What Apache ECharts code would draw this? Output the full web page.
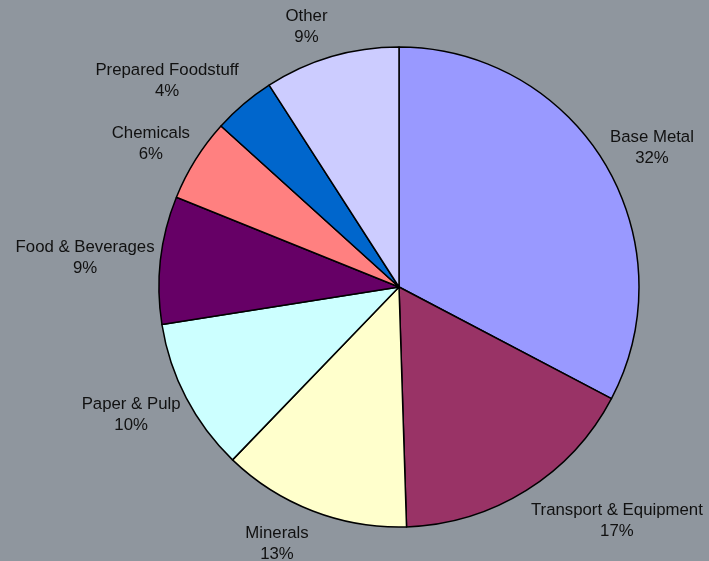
<!DOCTYPE html>
<html><head><meta charset="utf-8">
<script src="https://cdn.jsdelivr.net/npm/echarts@6/dist/echarts.min.js"></script>
<style>html,body{margin:0;padding:0;background:#8f969e}#c{width:709px;height:561px}</style>
</head><body><div id="c"></div>
<script>
const categories = ['Base Metal','Transport & Equipment','Minerals','Paper & Pulp','Food & Beverages','Chemicals','Prepared Foodstuff','Other'];
const values = [32.7, 16.8, 12.7, 10.3, 8.6, 5.6, 4.2, 9.1];
const percentLabels = ['32%','17%','13%','10%','9%','6%','4%','9%'];
const colors = ['#9999ff','#993366','#ffffcc','#ccffff','#660066','#ff8080','#0066cc','#ccccff'];

const total = values.reduce((a,b)=>a+b,0);
const mids = []; let acc = 0;
values.forEach(v => { mids.push((acc + v/2) / total); acc += v; });

const chart = echarts.init(document.getElementById('c'), null, {renderer:'canvas'});
chart.setOption({
  backgroundColor:'#8f969e',
  animation:false,
  series:[{
    type:'pie',
    center:[399,287],
    radius:240,
    startAngle:90,
    clockwise:true,
    avoidLabelOverlap:false,
    minShowLabelAngle:0,
    itemStyle:{borderColor:'#000', borderWidth:1.5},
    label:{
      show:true, position:'outside',
      formatter: p => p.name + '\n' + percentLabels[p.dataIndex],
      color:'#111', fontFamily:'Liberation Sans, Arial, sans-serif',
      fontSize:16.8, lineHeight:21, distanceToLabelLine:3
    },
    labelLine:{show:false, length:3, length2:0},
    emphasis:{disabled:true},
    labelLayout: p => {
      const a = mids[p.dataIndex] * 2 * Math.PI;
      const sx = Math.sin(a) >= 0 ? 1 : -1;
      return {align:'center', dx: sx * p.labelRect.width / 2, dy: -Math.cos(a) * 30 + 2};
    },
    data: categories.map((n,i) => ({name:n, value:values[i], itemStyle:{color:colors[i]}}))
  }]
});
</script></body></html>
